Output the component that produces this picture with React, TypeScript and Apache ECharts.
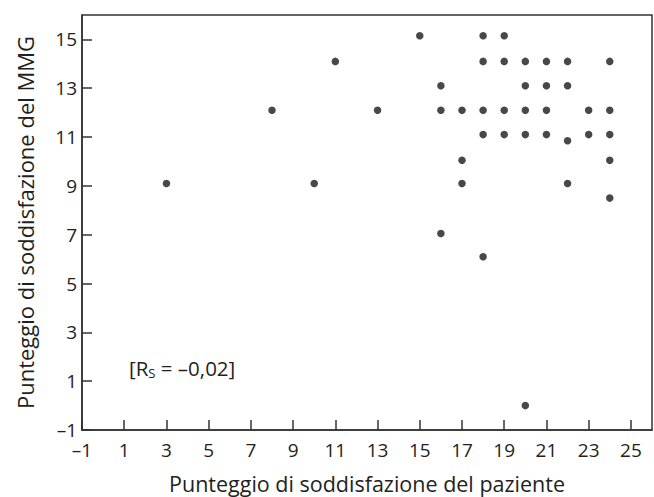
import React, { useEffect, useRef } from "react";
import * as echarts from "echarts";

const xTitle = "Punteggio di soddisfazione del paziente";
const yTitle = "Punteggio di soddisfazione del MMG";

const patientScores = [
  3, 8, 10, 11, 13, 15,
  16, 16, 16,
  17, 17, 17,
  18, 18, 18, 18, 18,
  19, 19, 19, 19,
  20, 20, 20, 20, 20,
  21, 21, 21, 21,
  22, 22, 22, 22,
  23, 23,
  24, 24, 24, 24, 24,
];
const gpScores = [
  9.1, 12.1, 9.1, 14.1, 12.1, 15.15,
  13.1, 12.1, 7.05,
  12.1, 10.05, 9.1,
  15.15, 14.1, 12.1, 11.1, 6.1,
  15.15, 14.1, 12.1, 11.1,
  14.1, 13.1, 12.1, 11.1, 0,
  14.1, 13.1, 12.1, 11.1,
  14.1, 13.1, 10.85, 9.1,
  12.1, 11.1,
  14.1, 12.1, 11.1, 10.05, 8.5,
];

const FONT = "Open Sans";
const INK = "#231f20";
const LINE = "#333333";
const X_MIN = -1;
const X_MAX = 26;
const Y_MIN = -1;
const Y_MAX = 16;

const fmt = (v: number) => (v < 0 ? "–" + Math.abs(v) : String(v));

export default function App() {
  const ref = useRef<HTMLDivElement>(null);
  useEffect(() => {
    if (!ref.current) return;
    const chart = echarts.init(ref.current, undefined, { renderer: "svg" });
    const data = patientScores.map((x, i) => [x, gpScores[i]]);
    const axisCommon = {
      type: "value",
      interval: 2,
      nameLocation: "middle",
      axisLine: { show: true, onZero: false, lineStyle: { color: LINE, width: 1.5 } },
      axisTick: { show: true, inside: true, length: 10, lineStyle: { color: LINE, width: 1.5 } },
      splitLine: { show: false },
    };
    const labelCommon = {
      formatter: fmt,
      fontFamily: FONT,
      fontSize: 19,
      lineHeight: 16,
      color: INK,
      showMaxLabel: false,
    };
    chart.setOption({
      animation: false,
      backgroundColor: "#ffffff",
      grid: {
        left: 82,
        right: 2,
        top: 15,
        bottom: 67,
        show: true,
        borderColor: LINE,
        borderWidth: 1.5,
        containLabel: false,
        outerBoundsMode: "none",
      },
      xAxis: {
        ...axisCommon,
        min: X_MIN,
        max: X_MAX,
        name: xTitle,
        nameGap: 42,
        nameTextStyle: { fontFamily: FONT, fontSize: 21.5, lineHeight: 22, color: INK },
        axisLabel: { ...labelCommon, margin: 12 },
      },
      yAxis: {
        ...axisCommon,
        min: Y_MIN,
        max: Y_MAX,
        name: yTitle,
        nameGap: 46,
        nameRotate: 90,
        nameTextStyle: { fontFamily: FONT, fontSize: 22, color: INK },
        axisLabel: { ...labelCommon, margin: 5 },
      },
      graphic: [
        {
          type: "text",
          left: 129,
          top: 357,
          style: {
            text: "{a|[R}{s|S}{a| = –0,02]}",
            rich: {
              a: { fontFamily: FONT, fontSize: 20.5, fill: INK, color: INK },
              s: { fontFamily: FONT, fontSize: 13, fill: INK, color: INK, padding: [10, 0, 0, 0] },
            },
          },
        },
      ],
      series: [
        {
          type: "scatter",
          data,
          symbol: "circle",
          symbolSize: 7.5,
          itemStyle: { color: "#1a1a1a" },
        },
      ],
    });
    return () => chart.dispose();
  }, []);
  return <div ref={ref} style={{ width: 654, height: 497, position: "absolute", left: 0, top: 0 }} />;
}
